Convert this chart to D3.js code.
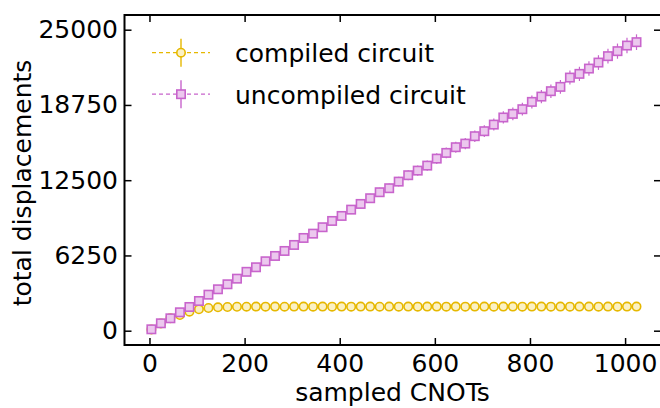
<!DOCTYPE html>
<html>
<head>
<meta charset="utf-8">
<script src="https://cdn.jsdelivr.net/npm/d3@7"></script>
<style>
  body { margin: 0; background: #fff; }
  svg text { font-family: "DejaVu Sans", sans-serif; fill: #000; }
</style>
</head>
<body>
<script>
// sampled CNOT counts (x)
var cnots = [4, 24, 44, 64, 84, 104, 124, 144, 164, 184, 204, 224, 244, 264, 284, 304, 324, 344, 364, 384,
  404, 424, 444, 464, 484, 504, 524, 544, 564, 584, 604, 624, 644, 664, 684, 704, 724, 744, 764, 784,
  804, 824, 844, 864, 884, 904, 924, 944, 964, 984, 1004, 1024];

var compiled = [100, 600, 1030, 1305, 1580, 1776, 1886, 1942, 1970, 1990, 1995, 2000, 1998, 2002, 1996, 2000, 2001, 1997, 2000, 1999,
  2002, 1998, 2000, 2001, 1996, 2000, 1999, 2002, 1998, 2000, 2001, 1997, 2000, 1999, 2002, 2000, 1998, 2001, 2000, 1997,
  2001, 2000, 1999, 2002, 1998, 2000, 2001, 1997, 2000, 1999, 2001, 2000];
var compiledErr = [20, 60, 90, 110, 120, 110, 90, 70, 60, 50, 45, 40, 40, 40, 40, 40, 40, 40, 40, 40,
  40, 40, 40, 40, 40, 40, 40, 40, 40, 40, 40, 40, 40, 40, 40, 40, 40, 40, 40, 40,
  40, 40, 40, 40, 40, 40, 40, 40, 40, 40, 40, 40];

var uncompiled = [116, 615, 1030, 1529, 1970, 2468, 2992, 3440, 3856, 4321, 4890, 5268, 5767, 6208, 6623, 7122, 7703, 8061, 8593, 9116,
  9532, 10055, 10529, 11002, 11501, 11834, 12382, 12914, 13296, 13712, 14293, 14767, 15240, 15540, 16155, 16570, 17119, 17710, 18008, 18398,
  19005, 19445, 19894, 20251, 21024, 21332, 21772, 22271, 22803, 23218, 23684, 23966];
var uncompiledErr = [30, 60, 80, 100, 120, 140, 160, 170, 190, 200, 220, 230, 240, 260, 270, 280, 300, 310, 320, 330,
  340, 350, 360, 370, 380, 390, 400, 410, 420, 430, 440, 450, 460, 470, 480, 490, 500, 510, 520, 530,
  540, 550, 560, 570, 580, 590, 600, 610, 620, 630, 640, 650];

var xTicks = [0, 200, 400, 600, 800, 1000];
var yTicks = [0, 6250, 12500, 18750, 25000];
var seriesNames = ['compiled circuit', 'uncompiled circuit'];

var gold = '#e6b800', purple = '#c864cc';

var W = 660, H = 408;
var svg = d3.select('body').append('svg')
    .attr('width', W)
    .attr('height', H);

var x = d3.scaleLinear().domain([-52.5, 1075.5]).range([124.5, 661]);
var y = d3.scaleLinear().domain([-1188, 26221]).range([345, 15]);

// axes with inward ticks
svg.append('g')
    .attr('transform', 'translate(0,345)')
    .call(d3.axisBottom(x).tickValues(xTicks).tickSize(-7).tickPadding(8).tickFormat(d3.format('d')))
    .call(g => g.select('.domain').remove())
    .call(g => g.selectAll('line').attr('stroke', '#000').attr('stroke-width', 1.5))
    .call(g => g.selectAll('text').attr('font-size', 25).attr('font-family', 'DejaVu Sans').attr('dy', '0.74em'));

svg.append('g')
    .attr('transform', 'translate(0,15)')
    .call(d3.axisTop(x).tickValues(xTicks).tickSize(-7).tickFormat(''))
    .call(g => g.select('.domain').remove())
    .call(g => g.selectAll('line').attr('stroke', '#000').attr('stroke-width', 1.5));

svg.append('g')
    .attr('transform', 'translate(124.5,0)')
    .call(d3.axisLeft(y).tickValues(yTicks).tickSize(-7).tickPadding(6.5).tickFormat(d3.format('d')))
    .call(g => g.select('.domain').remove())
    .call(g => g.selectAll('line').attr('stroke', '#000').attr('stroke-width', 1.5))
    .call(g => g.selectAll('text').attr('font-size', 25).attr('font-family', 'DejaVu Sans'));

svg.append('g')
    .attr('transform', 'translate(661,0)')
    .call(d3.axisRight(y).tickValues(yTicks).tickSize(-7).tickFormat(''))
    .call(g => g.select('.domain').remove())
    .call(g => g.selectAll('line').attr('stroke', '#000').attr('stroke-width', 1.5));

// frame
svg.append('rect')
    .attr('x', 124.5).attr('y', 15)
    .attr('width', 661 - 124.5).attr('height', 345 - 15)
    .attr('fill', 'none')
    .attr('stroke', '#000')
    .attr('stroke-width', 2);

// axis labels
svg.append('text')
    .attr('x', 392.5).attr('y', 401)
    .attr('text-anchor', 'middle')
    .attr('font-size', 25)
    .text('sampled CNOTs');

svg.append('text')
    .attr('transform', 'translate(31,183) rotate(-90)')
    .attr('text-anchor', 'middle')
    .attr('font-size', 25)
    .text('total displacements');

function drawSeries(vals, errs, color, shape) {
    var pts = cnots.map(function(c, i) { return { x: c, y: vals[i], e: errs[i] }; });
    var g = svg.append('g');

    g.append('path')
        .datum(pts)
        .attr('fill', 'none')
        .attr('stroke', color)
        .attr('stroke-width', 1.2)
        .attr('stroke-dasharray', '4,3')
        .attr('d', d3.line().x(d => x(d.x)).y(d => y(d.y)));

    g.selectAll('line.err')
        .data(pts).enter()
        .append('line')
        .attr('class', 'err')
        .attr('x1', d => x(d.x)).attr('x2', d => x(d.x))
        .attr('y1', d => y(d.y - d.e)).attr('y2', d => y(d.y + d.e))
        .attr('stroke', color)
        .attr('stroke-width', 1.2);

    if (shape === 'circle') {
        g.selectAll('circle')
            .data(pts).enter()
            .append('circle')
            .attr('cx', d => x(d.x))
            .attr('cy', d => y(d.y))
            .attr('r', 4.2)
            .attr('fill', '#fbf1c4')
            .attr('stroke', color)
            .attr('stroke-width', 1.6);
    } else {
        g.selectAll('rect')
            .data(pts).enter()
            .append('rect')
            .attr('x', d => x(d.x) - 4.2)
            .attr('y', d => y(d.y) - 4.2)
            .attr('width', 8.4).attr('height', 8.4)
            .attr('fill', '#ecc8ee')
            .attr('stroke', color)
            .attr('stroke-width', 1.6);
    }
}

drawSeries(compiled, compiledErr, gold, 'circle');
drawSeries(uncompiled, uncompiledErr, purple, 'square');

// legend
var legend = svg.append('g');
[{ c: gold, s: 'circle', fill: '#fbf1c4' }, { c: purple, s: 'square', fill: '#ecc8ee' }].forEach(function(d, i) {
    var ly = 52.7 + i * 41.5;
    legend.append('line')
        .attr('x1', 152).attr('x2', 210).attr('y1', ly).attr('y2', ly)
        .attr('stroke', d.c).attr('stroke-width', 1.2).attr('stroke-dasharray', '4,3');
    legend.append('line')
        .attr('x1', 181).attr('x2', 181).attr('y1', ly - 14).attr('y2', ly + 14)
        .attr('stroke', d.c).attr('stroke-width', 1.4);
    if (d.s === 'circle') {
        legend.append('circle').attr('cx', 181).attr('cy', ly).attr('r', 4.2)
            .attr('fill', d.fill).attr('stroke', d.c).attr('stroke-width', 1.6);
    } else {
        legend.append('rect').attr('x', 181 - 4.2).attr('y', ly - 4.2).attr('width', 8.4).attr('height', 8.4)
            .attr('fill', d.fill).attr('stroke', d.c).attr('stroke-width', 1.6);
    }
    legend.append('text')
        .attr('x', 235).attr('y', ly + 9.5)
        .attr('font-size', 25)
        .text(seriesNames[i]);
});
</script>
</body>
</html>
